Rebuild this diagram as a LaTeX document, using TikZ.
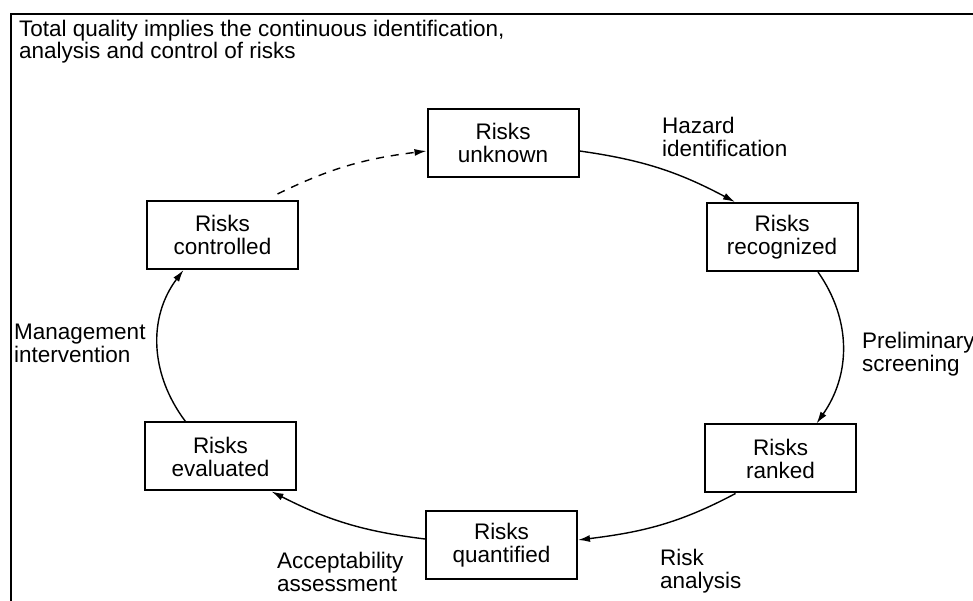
\documentclass[tikz,border=0pt]{standalone}
\usepackage{fontspec}
\setmainfont{Liberation Sans}
\usetikzlibrary{arrows.meta}
\begin{document}
\begin{tikzpicture}[x=1pt,y=1pt,
  stage/.style={draw, line width=2pt, minimum width=151pt, minimum height=68pt,
    inner sep=0pt, align=center, font=\fontsize{22.5}{23}\selectfont},
  note/.style={anchor=west, align=left, inner sep=0pt, font=\fontsize{22.5}{23}\selectfont},
  flow/.style={line width=1.4pt, -{Latex[length=12pt,width=7pt]}},
  frame/.style={line width=2.4pt},
]
\useasboundingbox (0,0) rectangle (973,601);

% open frame: top and left edges only
\draw[frame] (973,587) -- (11,587) -- (11,0);

% title
\node[note, font=\fontsize{22.5}{19}\selectfont] (title) at (19,559.5)
  {Total quality implies the continuous identification,\\analysis and control of risks};

% stages of the cycle
\node[stage] (unknown)    at (503,458)   {Risks\\unknown};
\node[stage] (recognized) at (782,364)   {Risks\\recognized};
\node[stage] (ranked)     at (780.5,142.5) {Risks\\ranked};
\node[stage] (quantified) at (501.5,56)  {Risks\\quantified};
\node[stage] (evaluated)  at (220.5,144.5) {Risks\\evaluated};
\node[stage] (controlled) at (222.5,366) {Risks\\controlled};

% activity labels
\node[note] (hazard)  at (662,464)  {Hazard\\identification};
\node[note] (screen)  at (862,246.5) {Preliminary\\screening};
\node[note] (analysis) at (660,29.5) {Risk\\analysis};
\node[note] (accept)  at (277,29.5) {Acceptability\\assessment};
\node[note] (manage)  at (14,257.5) {Management\\intervention};

% connectors along the elliptical cycle
\draw[flow] ([yshift=-8pt]unknown.east) to[out=-8,in=152] ([xshift=-47pt]recognized.north);
\draw[flow] ([xshift=36pt]recognized.south) to[out=-55,in=55] ([xshift=36pt]ranked.north);
\draw[flow] ([xshift=-45pt]ranked.south) to[out=-152,in=7] ([yshift=5pt]quantified.east);
\draw[flow] ([yshift=6pt]quantified.west) to[out=173,in=-27] ([xshift=51pt]evaluated.south);
\draw[flow] ([xshift=-35pt]evaluated.north) to[out=127,in=-127] ([xshift=-39pt]controlled.south);
\draw[flow, dash pattern=on 8pt off 7pt] ([xshift=55pt,yshift=6pt]controlled.north)
  to[out=26,in=187] ([yshift=-8pt]unknown.west);
\end{tikzpicture}
\end{document}
